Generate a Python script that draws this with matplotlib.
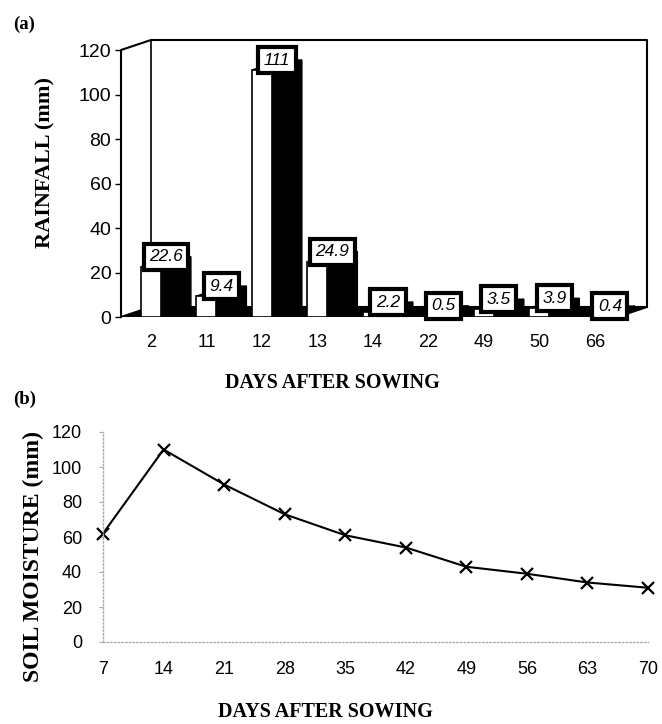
import numpy as np
import matplotlib.pyplot as plt
from matplotlib.patches import Polygon

# panel (a) rainfall per rainy day
rain_days = ['2', '11', '12', '13', '14', '22', '49', '50', '66']
rainfall = [22.6, 9.4, 111, 24.9, 2.2, 0.5, 3.5, 3.9, 0.4]
rain_labels = ['22.6', '9.4', '111', '24.9', '2.2', '0.5', '3.5', '3.9', '0.4']

# panel (b) soil moisture
das = [7, 14, 21, 28, 35, 42, 49, 56, 63, 70]
moisture = [62, 110, 90, 73, 61, 54, 43, 39, 34, 31]

W, H = 662, 724
fig = plt.figure(figsize=(W / 100, H / 100), dpi=100)

sans = 'Liberation Sans'
serif = 'Liberation Serif'

# ---------- (a) pseudo 3D column chart ----------
ax = fig.add_axes([121 / W, 1 - 317 / H, (647 - 121) / W, (317 - 40) / H])
dx, dy = 0.54, 4.5      # depth offset (category units, mm)
bw = 0.36               # front face width
n = len(rainfall)
x0 = -dx
x1 = n - 1 + 0.94
ax.set_xlim(x0, x1)
ax.set_ylim(0, 120 + dy)

# floor
ax.add_patch(Polygon([(x0, 0), (x1 - dx, 0), (x1, dy), (0, dy)], closed=True,
                     facecolor='black', edgecolor='black', lw=1.5, zorder=1))
# walls
ax.plot([x0, x0, 0, x1, x1], [0, 120, 120 + dy, 120 + dy, dy], color='black', lw=1.5,
        zorder=1, clip_on=False)
ax.plot([0, 0], [dy, 120 + dy], color='black', lw=1.2, zorder=1)

for i, v in enumerate(rainfall):
    xl, xr = i - bw / 2, i + bw / 2
    ax.add_patch(Polygon([(xr, 0), (xr + dx, dy), (xr + dx, v + dy), (xr, v)],
                         closed=True, facecolor='black', edgecolor='black', lw=1, zorder=2))
    ax.add_patch(Polygon([(xl, v), (xl + dx, v + dy), (xr + dx, v + dy), (xr, v)],
                         closed=True, facecolor='black', edgecolor='black', lw=1, zorder=2))
ax.bar(range(n), rainfall, width=bw, color='white', edgecolor='black', lw=1.2, zorder=3)

for i, (v, t) in enumerate(zip(rainfall, rain_labels)):
    ax.text(i + 0.27, v + dy, t, ha='center', va='center', fontsize=12.5, style='italic',
            family=sans, zorder=5,
            bbox=dict(boxstyle='square,pad=0.32', facecolor='white', edgecolor='black', lw=3))

for s in ax.spines.values():
    s.set_visible(False)
ax.set_yticks([0, 20, 40, 60, 80, 100, 120])
ax.set_xticks(range(n))
ax.set_xticklabels(rain_days)
ax.tick_params(axis='y', length=4, width=1, labelsize=14, pad=3)
ax.tick_params(axis='x', length=0, labelsize=13, pad=12)
for lab in ax.get_xticklabels() + ax.get_yticklabels():
    lab.set_family(sans)

fig.text(45 / W, 1 - 163 / H, 'RAINFALL (mm)', rotation=90, ha='center', va='center',
         fontsize=16, fontweight='bold', family=serif)
fig.text(332 / W, 1 - 383 / H, 'DAYS AFTER SOWING', ha='center', va='center',
         fontsize=14.5, fontweight='bold', family=serif)
fig.text(13 / W, 1 - 24 / H, '(a)', ha='left', va='center', fontsize=13.5,
         fontweight='bold', family=serif)

# ---------- (b) soil moisture line ----------
bx = fig.add_axes([103 / W, 1 - 642 / H, (648 - 103) / W, (642 - 432) / H])
bx.plot(das, moisture, color='black', lw=1.5, marker='x', markersize=9,
        markeredgewidth=1.6, clip_on=False)
bx.set_xlim(7, 70)
bx.set_ylim(0, 120)
bx.set_xticks(das)
bx.set_yticks([0, 20, 40, 60, 80, 100, 120])
for s in ['top', 'right']:
    bx.spines[s].set_visible(False)
for s in ['left', 'bottom']:
    bx.spines[s].set_linestyle(':')
    bx.spines[s].set_color('#aaaaaa')
    bx.spines[s].set_linewidth(1)
bx.tick_params(axis='y', length=3, color='#aaaaaa', labelsize=13, pad=12)
bx.tick_params(axis='x', length=0, labelsize=13, pad=14)
for lab in bx.get_xticklabels() + bx.get_yticklabels():
    lab.set_family(sans)

fig.text(33 / W, 1 - 556 / H, 'SOIL MOISTURE (mm)', rotation=90, ha='center', va='center',
         fontsize=17, fontweight='bold', family=serif)
fig.text(325 / W, 1 - 712 / H, 'DAYS AFTER SOWING', ha='center', va='center',
         fontsize=14.5, fontweight='bold', family=serif)
fig.text(13 / W, 1 - 399 / H, '(b)', ha='left', va='center', fontsize=13.5,
         fontweight='bold', family=serif)

fig.savefig('out.png', dpi=100)
